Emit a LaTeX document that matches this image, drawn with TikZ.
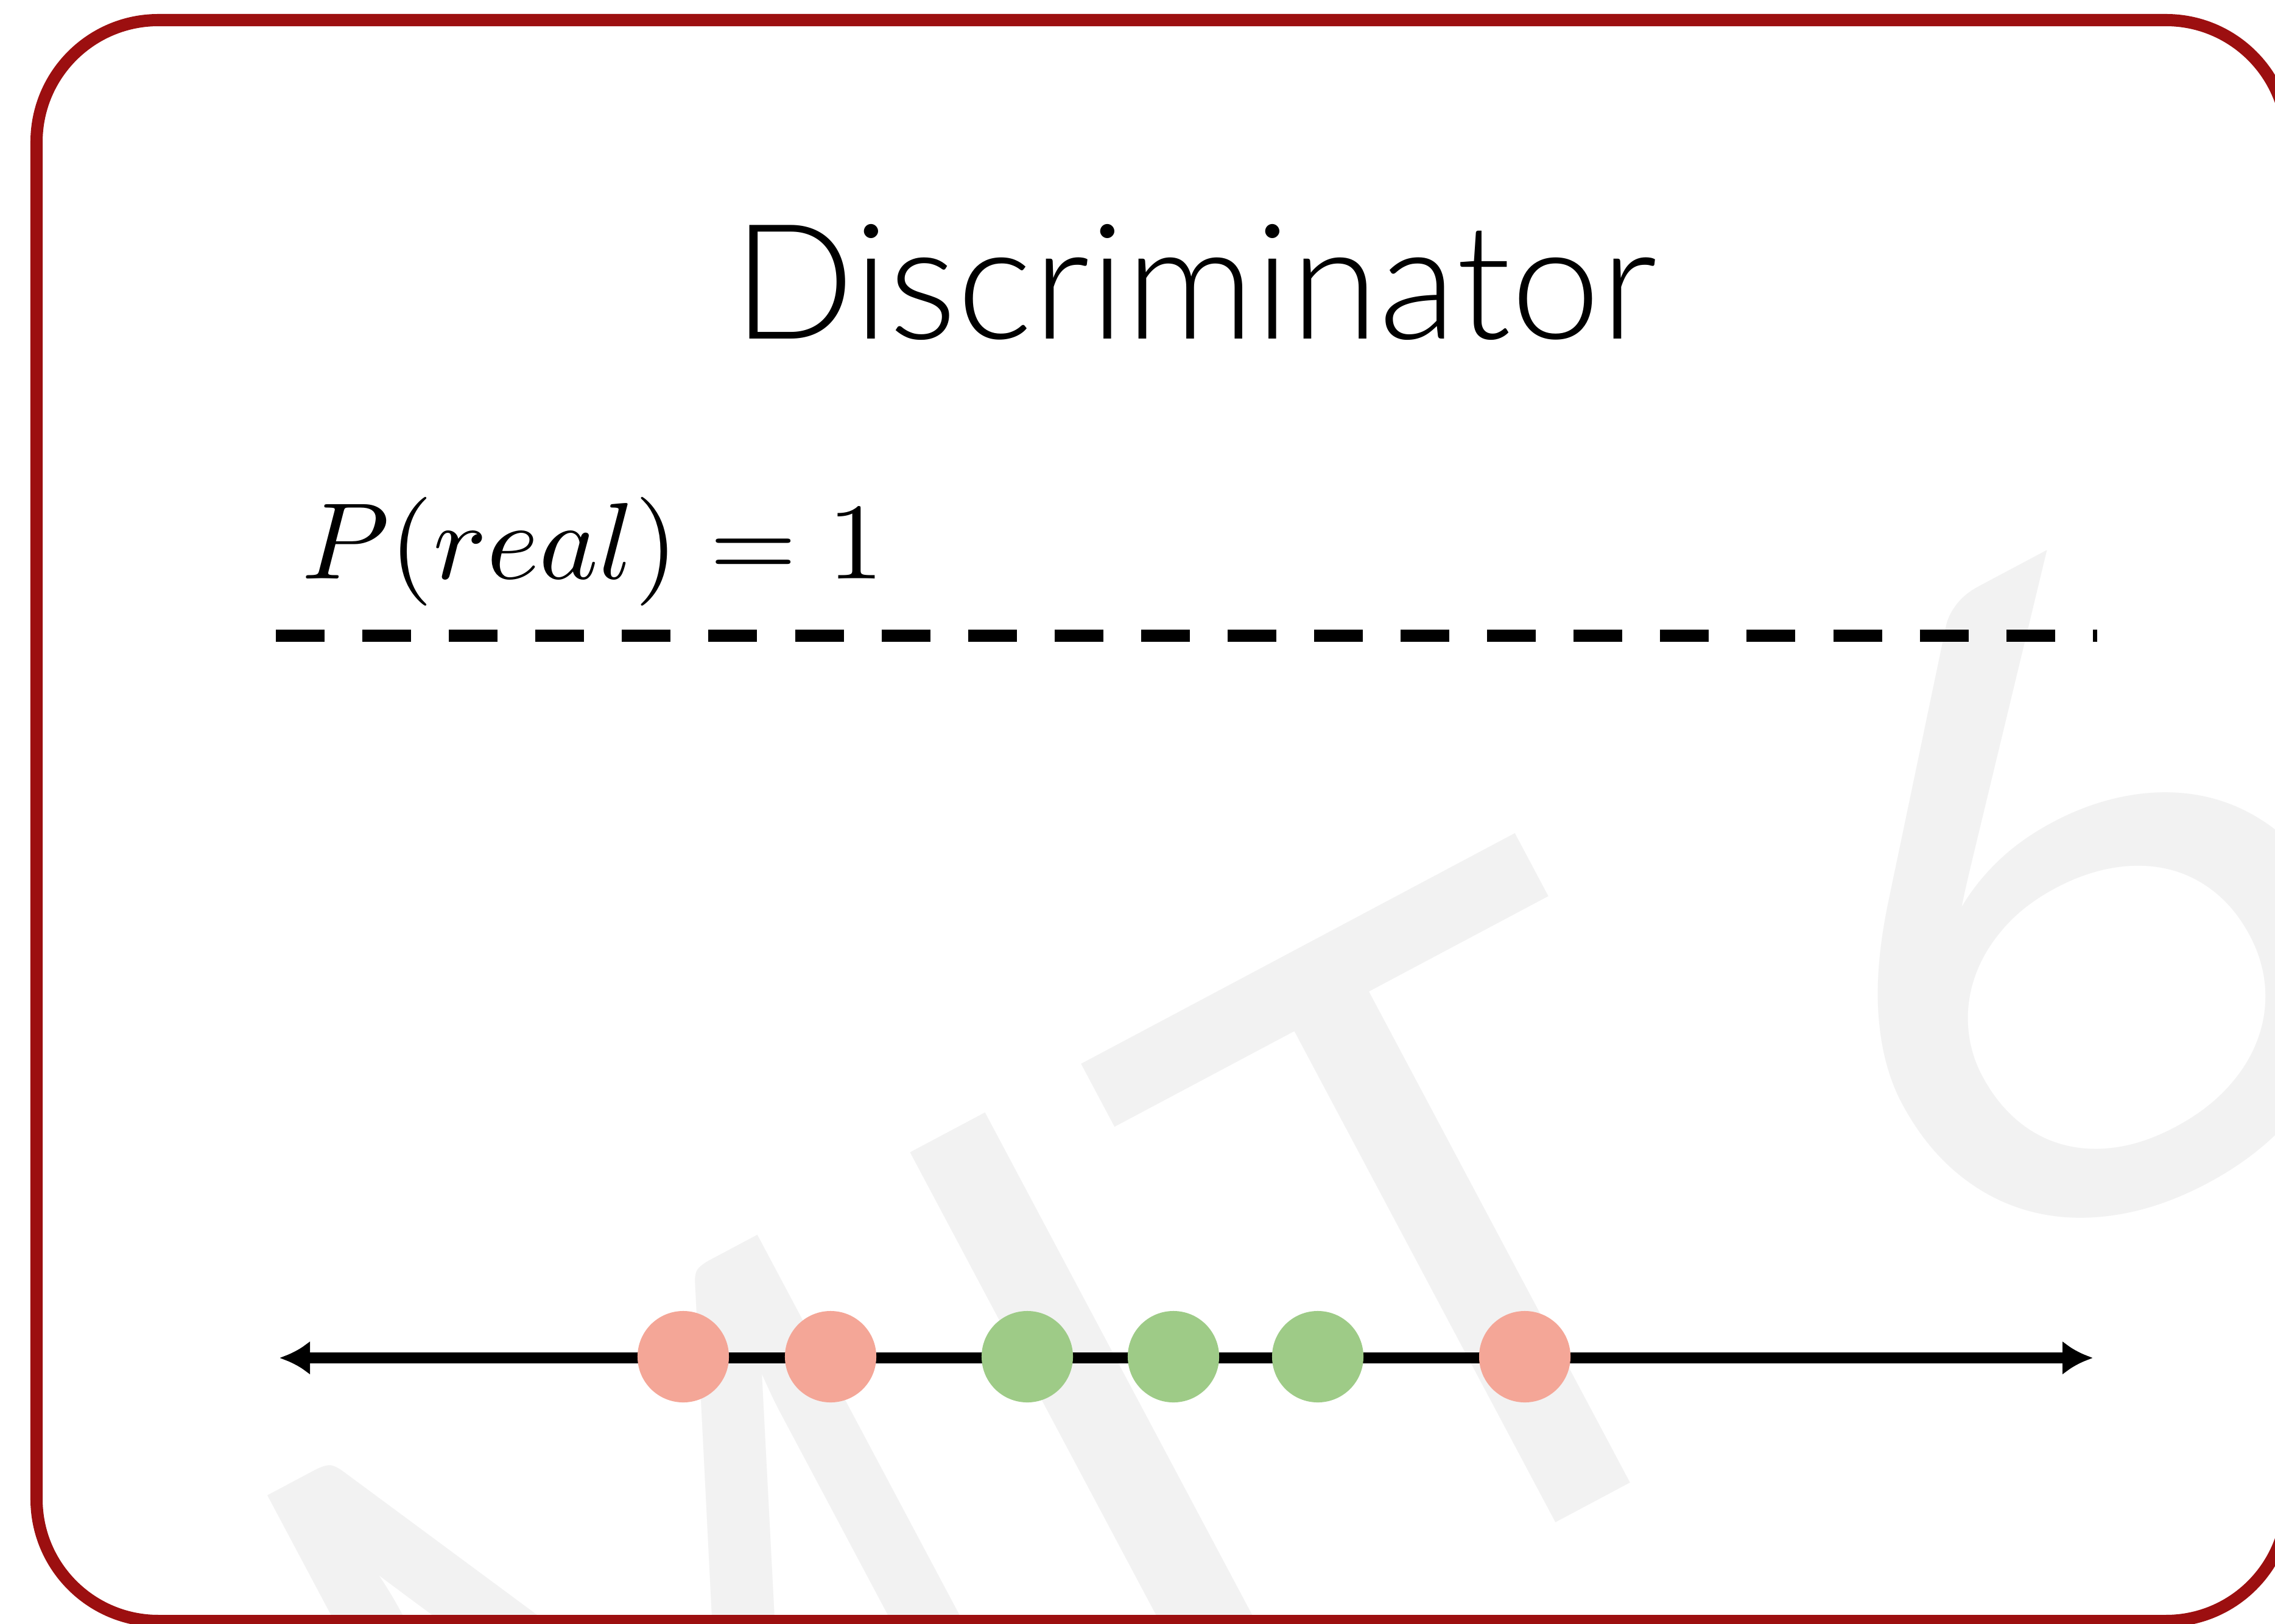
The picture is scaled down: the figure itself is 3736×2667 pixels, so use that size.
\documentclass[tikz,border=0pt]{standalone}
\usepackage[no-math]{fontspec}
\setmainfont{Lato}
\newfontfamily\titlefont{Lato Light}
\usetikzlibrary{arrows.meta}
\definecolor{framered}{HTML}{9C0F10}
\definecolor{fakedot}{HTML}{F4A697}
\definecolor{realdot}{HTML}{9ECB87}
\definecolor{wmgray}{HTML}{F2F2F2}
\tikzset{
  ptdot/.style={circle, minimum size=1.5cm, inner sep=0pt, draw=none},
  wmletter/.style={text=wmgray, rotate=28, anchor=base, inner sep=0pt,
      font=\fontsize{409}{409}\selectfont},
  axisline/.style={line width=5.1pt, black},
  dashline/.style={line width=5.6pt, black, dash pattern=on 0.8cm off 0.62cm},
}
\begin{document}
\begin{tikzpicture}[x=0.01cm,y=-0.01cm]
\useasboundingbox (0,0) rectangle (3736,2667);
\clip (0,0) rectangle (3736,2667);
\fill[white] (0,0) rectangle (3736,2667);
% watermark
\node[wmletter] (wmM) at (1326,3152) {\scalebox{0.85}[1]{M}};
\node[wmletter] (wmI) at (2040,2770) {I};
\node[wmletter] (wmT) at (2615,2468) {T};
\node[wmletter] (wm6) at (3619,1934) {\scalebox{1.12}[1]{6}};
% frame
\draw[framered, line width=5.7pt, rounded corners=2cm] (60,33) rectangle (3757,2662);
% title
\node[anchor=base, inner sep=0pt, font=\titlefont\fontsize{75}{75}\selectfont] (title) at (1962,557) {Discriminator};
% label
\node[anchor=base west, inner sep=0pt] (preal) at (495,950) {\scalebox{5.25}[5.08]{$P(real)=1$}};
% dashed threshold
\coordinate (d1) at (453,1044);
\coordinate (d2) at (3444,1044);
\draw[dashline] (d1) -- (d2);
% number line
\coordinate (l1) at (459,2230);
\coordinate (l2) at (3437,2230);
\draw[axisline, {Latex[length=0.5cm,width=0.56cm]}-{Latex[length=0.5cm,width=0.56cm]}] (l1) -- (l2);
% points
\node[ptdot, fill=fakedot] (f1) at (1122,2228) {};
\node[ptdot, fill=fakedot] (f2) at (1364,2228) {};
\node[ptdot, fill=realdot] (r1) at (1687,2228) {};
\node[ptdot, fill=realdot] (r2) at (1927,2228) {};
\node[ptdot, fill=realdot] (r3) at (2164,2228) {};
\node[ptdot, fill=fakedot] (f3) at (2504,2228) {};
\end{tikzpicture}
\end{document}
